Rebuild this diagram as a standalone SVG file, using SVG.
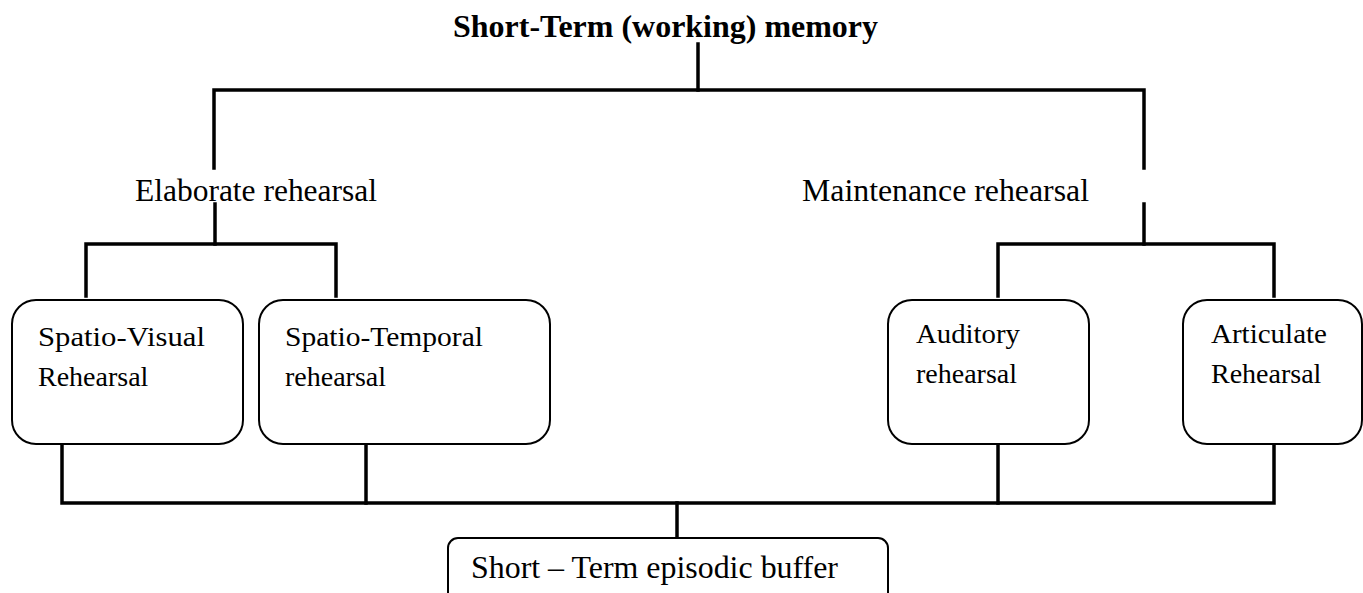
<svg xmlns="http://www.w3.org/2000/svg" width="1363" height="593" viewBox="0 0 1363 593">
<style>
.bg{fill:#ffffff}
.box{fill:#ffffff;stroke:#000;stroke-width:2}
.t{font-family:"Liberation Serif","Times New Roman",serif;fill:#000}
.title{font-size:32px;font-weight:bold}
.lbl{font-size:31px}
.bt{font-size:28px}
.conn{fill:none;stroke:#000;stroke-width:3.5;stroke-linecap:square}
</style>
<rect class="bg" x="0" y="0" width="1363" height="593"/>
<g id="connectors">
<path class="conn" d="M698 44 V90"/>
<path class="conn" d="M214 168 V90 H1144 V168"/>
<path class="conn" d="M215 204 V244"/>
<path class="conn" d="M86 296 V244 H336 V296"/>
<path class="conn" d="M1144 204 V244"/>
<path class="conn" d="M998 296 V244 H1274 V296"/>
<path class="conn" d="M62 445 V503 H1274 V445"/>
<path class="conn" d="M366 445 V503"/>
<path class="conn" d="M998 445 V503"/>
<path class="conn" d="M677 503 V538"/>
</g>
<g id="node-title">
<text class="t title" x="453" y="37" textLength="425" lengthAdjust="spacingAndGlyphs">Short-Term (working) memory</text>
</g>
<g id="node-elaborate">
<text class="t lbl" x="135" y="201" textLength="242" lengthAdjust="spacingAndGlyphs">Elaborate rehearsal</text>
</g>
<g id="node-maintenance">
<text class="t lbl" x="802" y="201" textLength="287" lengthAdjust="spacingAndGlyphs">Maintenance rehearsal</text>
</g>
<g id="node-spatio-visual">
<rect class="box" x="12" y="300" width="231" height="144" rx="24" ry="24"/>
<text class="t bt" x="38" y="346" textLength="167" lengthAdjust="spacingAndGlyphs">Spatio-Visual</text>
<text class="t bt" x="38" y="386">Rehearsal</text>
</g>
<g id="node-spatio-temporal">
<rect class="box" x="259" y="300" width="291" height="144" rx="24" ry="24"/>
<text class="t bt" x="285" y="346" textLength="198" lengthAdjust="spacingAndGlyphs">Spatio-Temporal</text>
<text class="t bt" x="285" y="386">rehearsal</text>
</g>
<g id="node-auditory">
<rect class="box" x="888" y="300" width="201" height="144" rx="24" ry="24"/>
<text class="t bt" x="916" y="343" textLength="104" lengthAdjust="spacingAndGlyphs">Auditory</text>
<text class="t bt" x="916" y="383">rehearsal</text>
</g>
<g id="node-articulate">
<rect class="box" x="1183" y="300" width="179" height="144" rx="24" ry="24"/>
<text class="t bt" x="1211" y="343" textLength="116" lengthAdjust="spacingAndGlyphs">Articulate</text>
<text class="t bt" x="1211" y="383">Rehearsal</text>
</g>
<g id="node-buffer">
<rect class="box" x="448" y="538" width="440" height="80" rx="10" ry="10"/>
<text class="t lbl" x="471" y="578" textLength="367" lengthAdjust="spacingAndGlyphs">Short – Term episodic buffer</text>
</g>
</svg>
